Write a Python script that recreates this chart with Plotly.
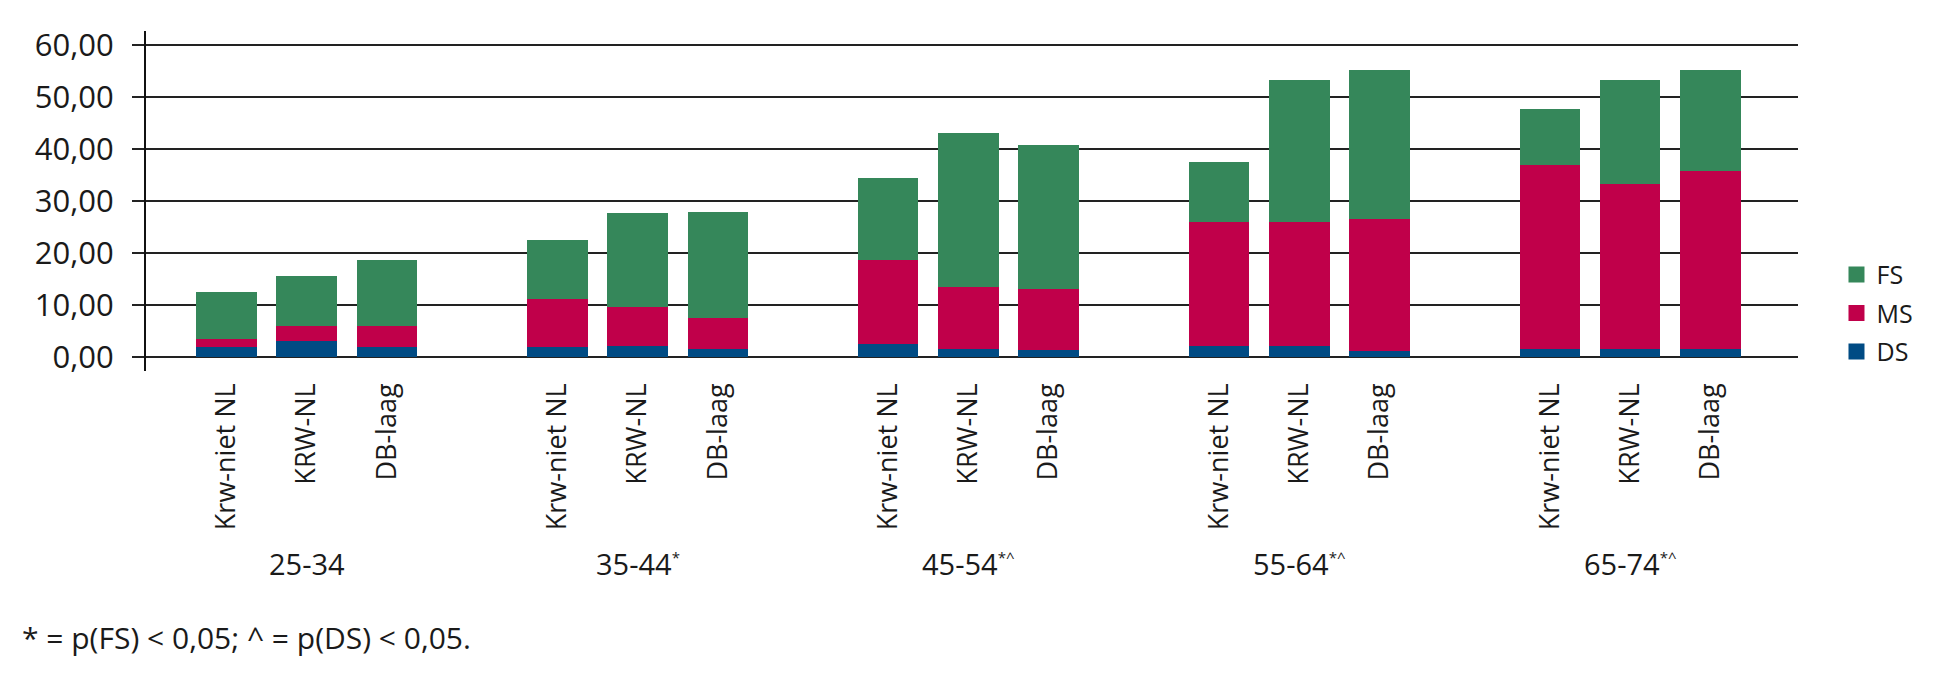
import plotly.graph_objects as go

# ---- data ----
groups = ["25-34", "35-44", "45-54", "55-64", "65-74"]
group_marks = ["", "*", "*^", "*^", "*^"]
subcats = ["Krw-niet NL", "KRW-NL", "DB-laag"]

# values per bar, in order group by group (Krw-niet NL, KRW-NL, DB-laag)
ds_vals = [1.92, 3.14, 1.99, 1.93, 2.06, 1.60, 2.56, 1.47, 1.41, 2.18, 2.11, 1.09, 1.54, 1.60, 1.47]
ms_vals = [1.47, 2.88, 4.03, 9.20, 7.59, 5.80, 16.01, 12.04, 11.59, 23.82, 23.89, 25.48, 35.34, 31.76, 34.26]
fs_vals = [9.10, 9.54, 12.68, 11.37, 17.95, 20.57, 15.93, 29.52, 27.85, 11.46, 27.34, 28.56, 10.82, 19.98, 19.40]

y_ticks = [0, 10, 20, 30, 40, 50, 60]
y_tick_labels = ["0,00", "10,00", "20,00", "30,00", "40,00", "50,00", "60,00"]

footnote = "* = p(FS) < 0,05; ^ = p(DS) < 0,05."

# ---- layout helpers ----
GROUP_STEP = 4.12
BAR_STEP = 1.0
FIRST_CENTER = 2.0
BAR_WIDTH = 0.755

xpos = []
xlabels = []
for g in range(len(groups)):
    for j, s in enumerate(subcats):
        xpos.append(FIRST_CENTER + g * GROUP_STEP + (j - 1) * BAR_STEP)
        xlabels.append(s)
group_centers = [FIRST_CENTER + g * GROUP_STEP for g in range(len(groups))]

COL_DS = "#004B84"
COL_MS = "#C0004A"
COL_FS = "#35875A"
TXT = "#1a1a1a"
FONT = "Open Sans"

series = [("DS", ds_vals, COL_DS), ("MS", ms_vals, COL_MS), ("FS", fs_vals, COL_FS)]

fig = go.Figure()
for name, vals, col in series:
    fig.add_trace(go.Bar(
        x=xpos, y=vals, name=name, width=BAR_WIDTH,
        marker=dict(color=col, line=dict(width=0)),
        legendgroup=name, showlegend=False,
    ))
# legend entries (larger square swatches), FS on top
for name, vals, col in reversed(series):
    fig.add_trace(go.Scatter(
        x=[None], y=[None], mode="markers", name=name,
        marker=dict(symbol="square", size=16, color=col),
        legendgroup=name, showlegend=True,
    ))

annotations = []
for gc, gname, mark in zip(group_centers, groups, group_marks):
    txt = gname
    if mark:
        txt += "<sup><span style='font-size:15px'>" + mark + "</span></sup>"
    annotations.append(dict(
        x=gc, xref="x", y=-0.565, yref="paper", text=txt, showarrow=False,
        xanchor="center", yanchor="middle", font=dict(family=FONT, size=29, color=TXT),
    ))
annotations.append(dict(
    x=-0.076, xref="paper", y=-0.785, yref="paper", text=footnote, showarrow=False,
    xanchor="left", yanchor="middle", font=dict(family=FONT, size=30, color=TXT),
))

fig.update_layout(
    width=1937, height=690,
    margin=dict(l=138, r=147, t=23, b=327),
    paper_bgcolor="white", plot_bgcolor="white",
    barmode="stack", bargap=0,
    showlegend=True,
    legend=dict(
        x=1.0233, xanchor="left", y=0.17, yanchor="middle",
        traceorder="grouped", tracegroupgap=3,
        itemwidth=30,
        font=dict(family=FONT, size=25, color=TXT),
        bgcolor="rgba(0,0,0,0)",
    ),
    annotations=annotations,
    font=dict(family=FONT, color=TXT),
)
fig.update_xaxes(
    range=[0, 20.57],
    tickmode="array", tickvals=xpos, ticktext=xlabels, tickangle=-90,
    tickfont=dict(family=FONT, size=27, color=TXT),
    showgrid=False, showline=False, zeroline=False, ticks="",
    ticklabelstandoff=6,
)
fig.update_yaxes(
    range=[-2.7, 62.7],
    tickmode="array", tickvals=y_ticks, ticktext=y_tick_labels,
    tickfont=dict(family=FONT, size=31, color=TXT),
    showgrid=True, gridcolor="#222222", gridwidth=2,
    zeroline=False,
    showline=True, linecolor="#111111", linewidth=2,
    ticks="outside", ticklen=12, tickwidth=2, tickcolor="#222222",
    ticklabelstandoff=12,
)

fig.write_html("out.html")
